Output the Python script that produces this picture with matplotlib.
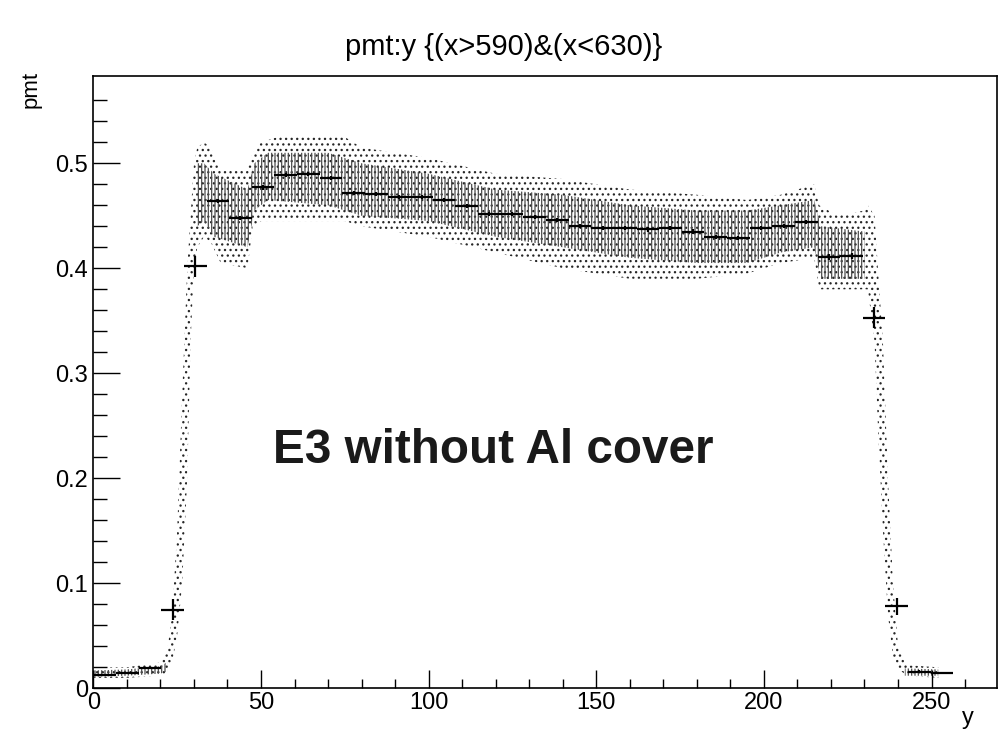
import numpy as np
import matplotlib
matplotlib.use("Agg")
import matplotlib.pyplot as plt

plt.rcParams["font.family"] = ["Liberation Sans", "DejaVu Sans"]
plt.rcParams["hatch.linewidth"] = 0.9

# profile of pmt vs y : 40 bins over 0..270
bin_lo, bin_hi, n_bins = 0.0, 270.0, 40
profile_y = [0.013, 0.015, 0.019, 0.075, 0.402, 0.464, 0.448, 0.477, 0.489, 0.490,
             0.486, 0.472, 0.471, 0.468, 0.468, 0.465, 0.459, 0.452, 0.452, 0.449,
             0.446, 0.440, 0.438, 0.438, 0.437, 0.438, 0.435, 0.430, 0.429, 0.438,
             0.440, 0.444, 0.411, 0.412, 0.353, 0.078, 0.016, 0.015,
             np.nan, np.nan]
profile_err = [0.001, 0.001, 0.001, 0.010, 0.010, 0.002, 0.002, 0.002, 0.002, 0.002,
               0.002, 0.002, 0.002, 0.002, 0.002, 0.002, 0.002, 0.002, 0.002, 0.002,
               0.002, 0.002, 0.002, 0.002, 0.002, 0.002, 0.002, 0.002, 0.002, 0.002,
               0.002, 0.002, 0.003, 0.003, 0.010, 0.008, 0.001, 0.001,
               np.nan, np.nan]

# extent of the scatter cloud (outer envelope)
cloud_x = [0, 10, 20, 22, 23.5, 25, 26.5, 28, 29, 30, 31, 33, 35, 38, 46, 47.5, 50,
           55, 75, 80, 100, 120, 140, 160, 180, 195, 205, 215, 216.5, 222, 230,
           231, 233, 234, 235.5, 237, 238.5, 240, 243, 252]
cloud_lo = [0.010, 0.010, 0.012, 0.015, 0.025, 0.05, 0.10, 0.20, 0.33, 0.40, 0.42, 0.43,
            0.425, 0.405, 0.40, 0.44, 0.445, 0.445, 0.445, 0.44, 0.43, 0.415, 0.40,
            0.39, 0.39, 0.395, 0.405, 0.41, 0.38, 0.38, 0.38,
            0.38, 0.33, 0.25, 0.15, 0.07, 0.03, 0.018, 0.012, 0.010]
cloud_hi = [0.020, 0.020, 0.025, 0.035, 0.07, 0.15, 0.28, 0.40, 0.45, 0.50, 0.515, 0.52,
            0.515, 0.495, 0.495, 0.51, 0.52, 0.525, 0.525, 0.515, 0.505, 0.49, 0.485,
            0.475, 0.47, 0.465, 0.47, 0.48, 0.46, 0.45, 0.455,
            0.46, 0.45, 0.40, 0.33, 0.20, 0.10, 0.04, 0.022, 0.020]

# dense core of the cloud
core_x = [0, 10, 20, 22, np.nan, 31, 33, 36, 46, 48, 52, 70, 80, 100, 120, 140, 160,
          180, 195, 205, 215, 217, 230, np.nan, 242, 252]
core_lo = [0.011, 0.012, 0.014, 0.016, np.nan, 0.44, 0.445, 0.43, 0.42, 0.455, 0.465,
           0.46, 0.45, 0.445, 0.43, 0.42, 0.41, 0.405, 0.405, 0.415, 0.42, 0.39, 0.39,
           np.nan, 0.012, 0.012]
core_hi = [0.017, 0.018, 0.021, 0.025, np.nan, 0.50, 0.50, 0.49, 0.475, 0.50, 0.51,
           0.51, 0.50, 0.49, 0.475, 0.47, 0.46, 0.455, 0.455, 0.46, 0.465, 0.44, 0.435,
           np.nan, 0.019, 0.018]

fig = plt.figure(figsize=(10.07, 7.41), dpi=100)
ax = fig.add_axes([0.0927, 0.0711, 0.8973, 0.8263])

# scatter cloud as stippled bands
ax.fill_between(cloud_x, cloud_lo, cloud_hi, facecolor="none", edgecolor="0.15",
                hatch="...", linewidth=0)
cx = np.ma.masked_invalid(core_x)
ax.fill_between(cx, np.ma.masked_invalid(core_lo), np.ma.masked_invalid(core_hi),
                where=~np.ma.getmaskarray(cx), facecolor="none", edgecolor="0.3",
                hatch="|||||", linewidth=0)

# profile
edges = np.linspace(bin_lo, bin_hi, n_bins + 1)
centers = 0.5 * (edges[:-1] + edges[1:])
half = 0.5 * (edges[1] - edges[0])
ax.errorbar(centers, profile_y, xerr=half, yerr=profile_err, fmt="none",
            ecolor="black", elinewidth=1.6, capsize=0)

ax.set_xlim(0, 269.5)
ax.set_ylim(0, 0.5831)
ax.set_xticks([0, 50, 100, 150, 200, 250])
ax.set_xticks(np.arange(0, 270, 10), minor=True)
ax.set_yticks([0, 0.1, 0.2, 0.3, 0.4, 0.5])
ax.set_yticklabels(["0", "0.1", "0.2", "0.3", "0.4", "0.5"])
ax.set_yticks(np.arange(0, 0.58, 0.02), minor=True)

ax.tick_params(axis="both", which="both", direction="in", top=False, right=False,
               labelsize=17, colors="black", width=1)
ax.tick_params(axis="x", which="major", length=13, pad=3)
ax.tick_params(axis="x", which="minor", length=6.5)
ax.tick_params(axis="y", which="major", length=19.5, pad=4)
ax.tick_params(axis="y", which="minor", length=10)
for sp in ax.spines.values():
    sp.set_linewidth(1.2)

fig.text(0.5, 0.937, "pmt:y {(x>590)&(x<630)}", ha="center", va="center", fontsize=21)
fig.text(0.031, 0.879, "pmt", rotation=90, ha="center", va="center", fontsize=16)
fig.text(0.961, 0.031, "y", ha="center", va="center", fontsize=17)
ax.text(0.199, 0.389, "E3 without Al cover", transform=ax.transAxes, ha="left",
        va="center", fontsize=34.3, fontweight="bold", color="#1a1a1a")

fig.savefig("out.png", dpi=100)
